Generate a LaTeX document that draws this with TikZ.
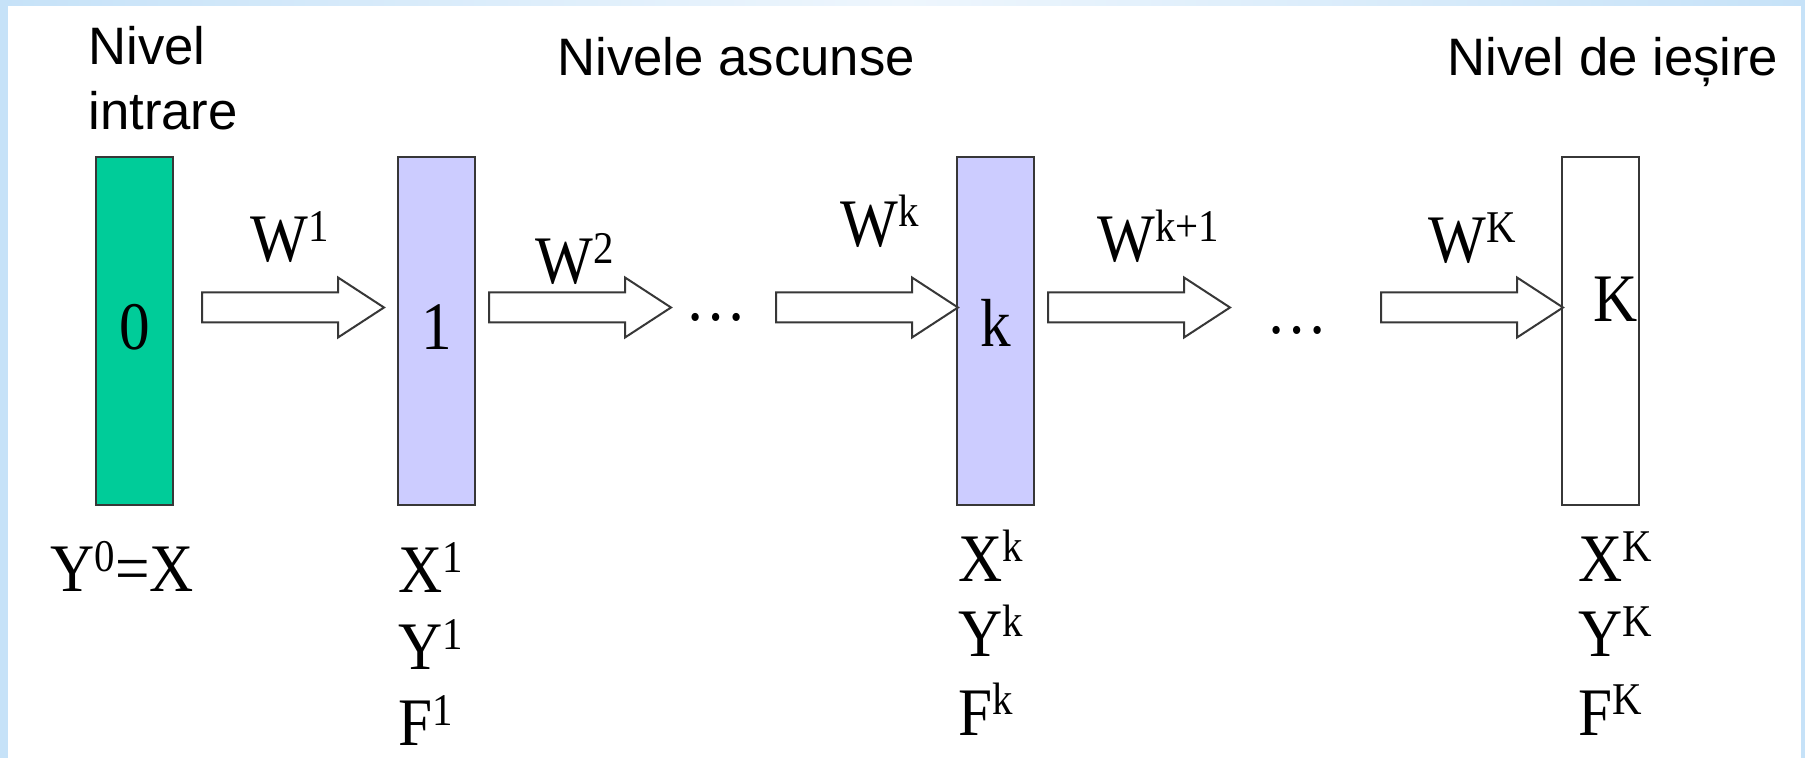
\documentclass[tikz,border=0pt]{standalone}
\usepackage{fontspec}
\setmainfont{Liberation Serif}[FakeStretch=0.9]
\newfontfamily\hdrfont{Liberation Sans}
\definecolor{frameblue}{RGB}{198,226,248}
\definecolor{topwhite}{RGB}{238,246,253}
\definecolor{inputgreen}{RGB}{0,204,153}
\definecolor{hiddenlav}{RGB}{204,204,255}
\definecolor{edgegray}{RGB}{55,55,55}
\newcommand{\supx}[1]{\raisebox{10pt}{\fontsize{22.7}{24}\selectfont #1}}
\begin{document}
\begin{tikzpicture}[x=0.5pt,y=-0.5pt,
  layerbox/.style={draw=edgegray, line width=1pt, minimum width=38.5pt, minimum height=174pt, inner sep=0pt},
  serif/.style={inner sep=0pt, font=\fontsize{34}{40}\selectfont},
  hdr/.style={inner sep=0pt, anchor=base west, font=\hdrfont\fontsize{26.35}{30}\selectfont},
  lbl/.style={serif, anchor=base west},
  blockarrow/.pic={\draw[draw=edgegray, fill=white, line width=1pt, line join=miter]
     (0,-15) -- (136,-15) -- (136,-30) -- (182,0) -- (136,30) -- (136,15) -- (0,15) -- cycle;}
]
% background frame
\fill[frameblue] (0,0) rectangle (1805,758);
\shade[left color=frameblue, right color=frameblue, middle color=topwhite] (0,0) rectangle (1805,6);
\fill[white] (8,6) rectangle (1801,758);
\useasboundingbox (0,0) rectangle (1805,758);

% headers
\node[hdr] (h0a) at (88,65) {Nivel};
\node[hdr] (h0b) at (88,130) {intrare};
\node[hdr] (hh) at (557,76) {Nivele ascunse};
\node[hdr] (ho) at (1447,76) {Nivel de ieșire};

% layer boxes
\node[layerbox, fill=inputgreen] (L0) at (134.5,331) {};
\node[layerbox, fill=hiddenlav] (L1) at (436.5,331) {};
\node[layerbox, fill=hiddenlav] (Lk) at (995,331) {};
\node[layerbox, fill=white] (LK) at (1600.5,331) {};

\node[serif, anchor=base] (t0) at (134.5,350) {0};
\node[serif, anchor=base] (t1) at (436.5,350) {1};
\node[serif, anchor=base] (tk) at (996,347) {k};
\node[serif, anchor=base] (tK) at (1616,322) {K};

% block arrows
\pic at (202,307.5) {blockarrow};
\pic at (489,307.5) {blockarrow};
\pic at (776,307.5) {blockarrow};
\pic at (1048,307.5) {blockarrow};
\pic at (1381,307.5) {blockarrow};

% weight labels
\node[lbl] (w1) at (250,262) {W\supx{1}};
\node[lbl] (w2) at (535,284) {W\supx{2}};
\node[lbl] (wk) at (840,247) {W\supx{k}};
\node[lbl] (wk1) at (1097,262) {W\supx{k+1}};
\node[lbl] (wK) at (1428,263) {W\supx{K}};

% ellipses
\node[serif, anchor=base] (d1) at (716,321) {…};
\node[serif, anchor=base] (d2) at (1297,334) {…};

% bottom labels
\node[lbl] (b0) at (50,592) {Y\supx{0}=X};
\node[lbl] (x1) at (398,593) {X\supx{1}};
\node[lbl] (y1) at (398,670) {Y\supx{1}};
\node[lbl] (f1) at (398,746) {F\supx{1}};
\node[lbl] (xk) at (958,582) {X\supx{k}};
\node[lbl] (yk) at (958,657) {Y\supx{k}};
\node[lbl] (fk) at (958,735) {F\supx{k}};
\node[lbl] (xK) at (1578,582) {X\supx{K}};
\node[lbl] (yK) at (1578,657) {Y\supx{K}};
\node[lbl] (fK) at (1578,735) {F\supx{K}};
\end{tikzpicture}
\end{document}
